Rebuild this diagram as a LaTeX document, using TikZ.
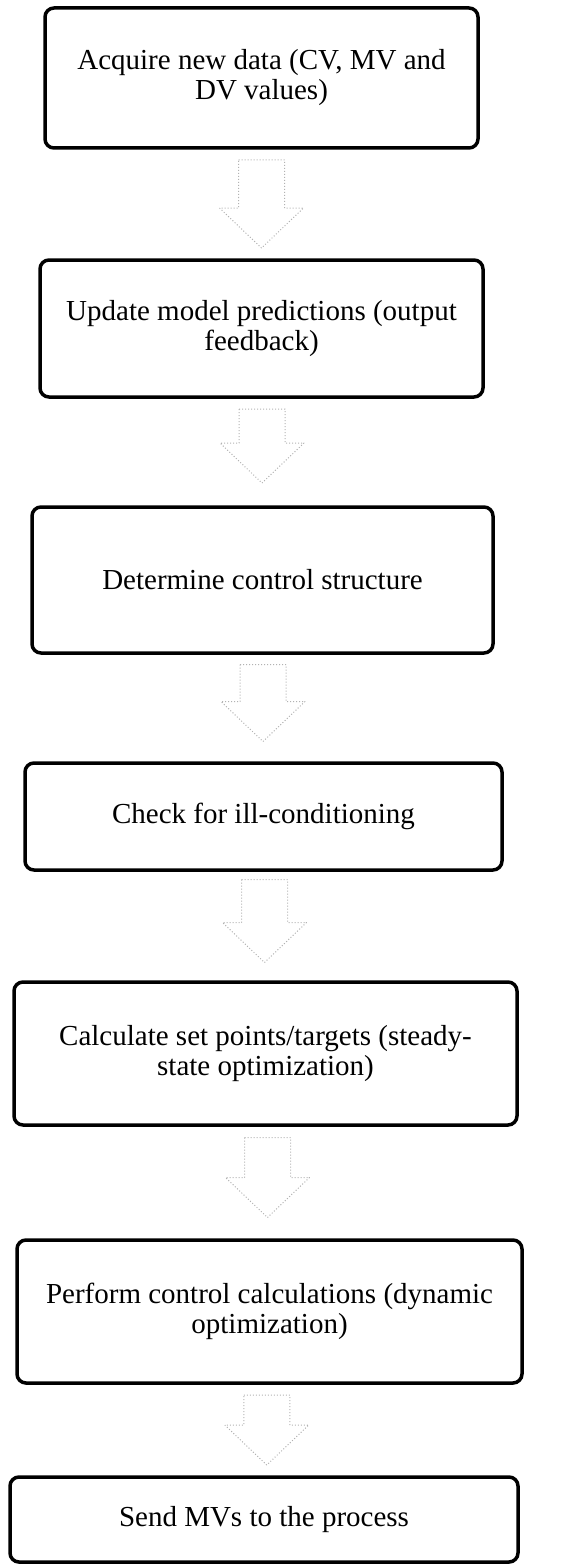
\documentclass[tikz,border=0pt]{standalone}
\usepackage{fontspec}
\setmainfont{Liberation Serif}
\usetikzlibrary{calc}

\tikzset{
  stepbox/.style={draw=black, line width=3.5pt, rounded corners=9pt,
    align=center, inner sep=0pt,
    font=\fontsize{29}{30}\selectfont},
  arrowline/.style={draw=gray!60, line width=1pt, dotted, line join=round},
  % hollow block arrow pointing down; #1 is its length
  pics/downarrow/.style={code={
    \draw[arrowline] (-23,{-#1/2}) -- (23,{-#1/2}) -- (23,{#1/2-40})
      -- (42,{#1/2-40}) -- (0,{#1/2}) -- (-42,{#1/2-40})
      -- (-23,{#1/2-40}) -- cycle;
  }}
}

\begin{document}
\begin{tikzpicture}[x=1pt, y=-1pt]
  \useasboundingbox (0,0) rectangle (569,1565);

  % process steps
  \node[stepbox, minimum width=433pt, minimum height=140pt] (b1) at (261.5,78)
    {Acquire new data (CV, MV and\\DV values)};
  \node[stepbox, minimum width=443pt, minimum height=137pt] (b2) at (261.5,328.5)
    {Update model predictions (output\\feedback)};
  \node[stepbox, minimum width=461pt, minimum height=146pt] (b3) at (262.5,580)
    {Determine control structure};
  \node[stepbox, minimum width=477pt, minimum height=107pt] (b4) at (263.5,816.5)
    {Check for ill-conditioning};
  \node[stepbox, minimum width=503pt, minimum height=143pt] (b5) at (265.5,1053.5)
    {Calculate set points/targets (steady-\\state optimization)};
  \node[stepbox, minimum width=505pt, minimum height=143pt] (b6) at (269.5,1311.5)
    {Perform control calculations (dynamic\\optimization)};
  \node[stepbox, minimum width=508pt, minimum height=85pt] (b7) at (264,1519.5)
    {Send MVs to the process};

  % block arrows between the steps
  \coordinate (m1) at ($(b1.south)!0.5!(b2.north)$);
  \coordinate (m2) at ($(b2.south)!0.5!(b3.north)+(0,-6)$);
  \coordinate (m3) at ($(b3.south)!0.5!(b4.north)+(0,-5)$);
  \coordinate (m4) at ($(b4.south)!0.5!(b5.north)+(0,-5)$);
  \coordinate (m5) at ($(b5.south)!0.5!(b6.north)+(0,-5)$);
  \coordinate (m6) at ($(b6.south)!0.5!(b7.north)$);
  \pic at (m1) {downarrow=88};
  \pic at (m2) {downarrow=74};
  \pic at (m3) {downarrow=77};
  \pic at (m4) {downarrow=83};
  \pic at (m5) {downarrow=80};
  \pic at (m6) {downarrow=70};
\end{tikzpicture}
\end{document}
